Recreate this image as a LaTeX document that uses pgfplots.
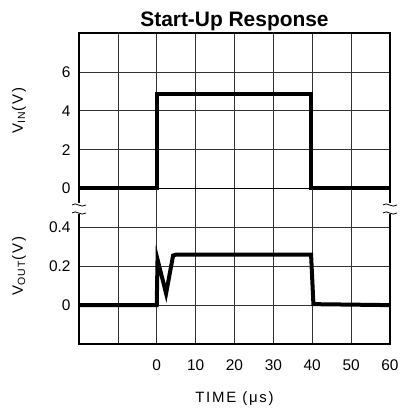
\documentclass[border=0pt]{standalone}
\usepackage{fontspec}
\setmainfont{Liberation Sans}
\newfontfamily\spacedfont[LetterSpace=12]{Liberation Sans}
\usepackage{pgfplots}
\pgfplotsset{compat=1.18}
\pgfplotsset{
  base/.style={
    scale only axis, width=311bp, height=155.5bp,
    xmin=-20, xmax=60, xtick={-20,-10,...,60},
    grid=major, major grid style={black!80, line width=0.7bp},
    axis line style={line width=1.1bp},
    major tick length=0pt,
    tick label style={font=\fontsize{15.5}{17}\selectfont},
    yticklabel style={xshift=-5bp},
    xticklabel style={yshift=-12bp},
    /pgf/number format/assume math mode=true,
    label style={font=\spacedfont\fontsize{15}{17}\selectfont},
    ylabel style={at={(rel axis cs:0,0.5)}, anchor=center, yshift=60bp},
    clip=false,
  }
}
\begin{document}
\begin{tikzpicture}
\path[use as bounding box] (-79bp,-66bp) rectangle (322bp,344bp);
\begin{axis}[base, name=top, at={(0bp,155.5bp)}, anchor=south west,
  ymin=0, ymax=8, ytick={0,2,4,6,8}, yticklabels={0,2,4,6,},
  xticklabels={},
  ylabel={V\textsubscript{IN}(V)},
  title={Start-Up Response},
  title style={font=\fontsize{21}{24}\selectfont\bfseries, at={(rel axis cs:0.5,1)}, anchor=base, yshift=1bp},
]
\addplot[black, line width=4bp] coordinates {(-20,0) (0,0) (0,4.85) (39.8,4.85) (39.8,0) (60,0)};
\end{axis}
\begin{axis}[base, name=bot, at={(0bp,0bp)}, anchor=south west,
  ymin=-0.2, ymax=0.6, ytick={-0.2,0,0.2,0.4,0.6}, yticklabels={,0,0.2,0.4,},
  xticklabels={,,0,10,20,30,40,50,60},
  ylabel={V\textsubscript{OUT}(V)},
  xlabel={TIME (μs)},
  xlabel style={at={(rel axis cs:0.5,0)}, anchor=center, yshift=-55bp},
]
\addplot[black, line width=4bp] coordinates {(-20,0) (0,0) (0.2,0.235) (2.4,0.06) (4.2,0.255) (5,0.26) (39.7,0.26) (40.3,0.005) (60,0)};
\end{axis}
% axis break marks
\fill[white] (-2bp,130bp) rectangle (2bp,141bp);
\fill[white] (309bp,130bp) rectangle (313bp,141bp);
\foreach \xx in {0bp,311bp}{
  \draw[line width=0.8bp] ([xshift=\xx]-7bp,139bp) .. controls ([xshift=\xx]-3bp,143bp) and ([xshift=\xx]2bp,135bp) .. ([xshift=\xx]7bp,139bp);
  \draw[line width=0.8bp] ([xshift=\xx]-7bp,131bp) .. controls ([xshift=\xx]-3bp,135bp) and ([xshift=\xx]2bp,127bp) .. ([xshift=\xx]7bp,131bp);
}
\end{tikzpicture}
\end{document}
